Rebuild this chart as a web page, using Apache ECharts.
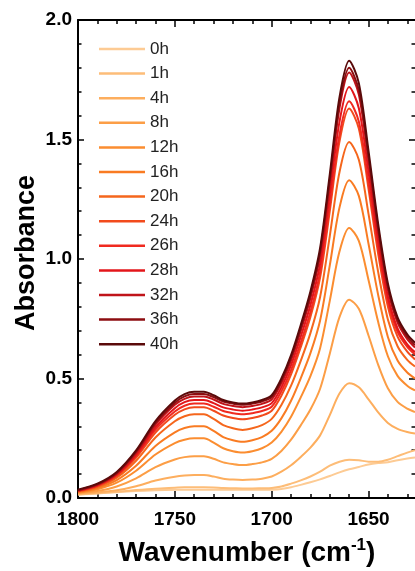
<!DOCTYPE html>
<html>
<head>
<meta charset="utf-8">
<script src="https://cdn.jsdelivr.net/npm/echarts@6/dist/echarts.min.js"></script>
<style>
html,body{margin:0;padding:0;background:#fff;}
#chart{width:415px;height:571px;}
</style>
</head>
<body>
<div id="chart"></div>
<script>
const wavenumbers = [1800,1790,1780,1770,1760,1750,1745,1740,1735,1730,1725,1720,1715,1710,1705,1700,1695,1690,1685,1680,1675,1670,1665,1660,1655,1650,1645,1640,1635,1630,1626];
const seriesNames = ['0h','1h','4h','8h','12h','16h','20h','24h','26h','28h','32h','36h','40h'];
const h0  = [.015,.019,.024,.029,.032,.034,.035,.035,.035,.035,.035,.034,.034,.034,.034,.035,.038,.045,.055,.066,.078,.092,.107,.120,.130,.140,.146,.150,.158,.165,.170];
const h1  = [.015,.020,.026,.033,.039,.043,.045,.045,.045,.044,.042,.041,.040,.040,.041,.042,.048,.060,.074,.090,.110,.135,.152,.160,.158,.152,.152,.160,.175,.190,.200];
const h4  = [.018,.023,.032,.049,.073,.089,.094,.096,.096,.090,.081,.077,.075,.077,.081,.090,.110,.137,.172,.211,.262,.347,.437,.480,.463,.413,.358,.314,.289,.276,.270];
const h8  = [.020,.029,.048,.082,.129,.161,.171,.175,.175,.164,.149,.142,.138,.142,.149,.164,.197,.244,.304,.370,.457,.604,.757,.830,.792,.680,.557,.459,.402,.374,.360];
const h12 = [.023,.037,.064,.114,.182,.230,.244,.250,.250,.232,.208,.196,.190,.196,.208,.232,.277,.340,.421,.510,.627,.825,1.031,1.130,1.076,.912,.736,.593,.511,.470,.450];
const h16 = [.025,.042,.075,.135,.218,.275,.293,.300,.300,.281,.255,.242,.235,.242,.255,.281,.333,.407,.501,.606,.743,.973,1.215,1.330,1.264,1.064,.849,.674,.575,.525,.500];
const h20 = [.027,.046,.085,.156,.253,.321,.342,.350,.350,.331,.305,.292,.285,.292,.305,.331,.389,.470,.574,.690,.841,1.096,1.363,1.490,1.415,1.189,.945,.747,.635,.578,.550];
const h24 = [.028,.049,.091,.169,.274,.348,.371,.380,.380,.365,.345,.335,.330,.335,.345,.365,.428,.517,.631,.757,.922,1.200,1.491,1.630,1.546,1.294,1.021,.801,.675,.612,.580];
const h26 = [.030,.052,.096,.176,.286,.362,.386,.395,.395,.382,.364,.355,.350,.355,.364,.382,.446,.535,.650,.778,.944,1.225,1.519,1.660,1.575,1.321,1.045,.823,.695,.632,.600];
const h28 = [.030,.053,.098,.182,.296,.376,.401,.410,.410,.397,.379,.370,.365,.370,.379,.397,.463,.556,.675,.807,.979,1.270,1.574,1.720,1.631,1.365,1.076,.843,.710,.643,.610];
const h32 = [.032,.056,.103,.189,.307,.390,.415,.425,.425,.412,.394,.385,.380,.385,.394,.412,.480,.576,.699,.836,1.014,1.315,1.630,1.780,1.688,1.412,1.113,.872,.734,.665,.630];
const h36 = [.033,.057,.105,.194,.314,.399,.425,.435,.435,.422,.404,.395,.390,.395,.404,.422,.491,.587,.711,.849,1.028,1.331,1.648,1.800,1.707,1.429,1.127,.884,.744,.675,.640];
const h40 = [.035,.060,.109,.199,.322,.408,.435,.445,.445,.430,.410,.400,.395,.400,.410,.430,.500,.598,.724,.864,1.046,1.354,1.676,1.830,1.736,1.452,1.146,.898,.756,.685,.650];
const seriesValues = [h0,h1,h4,h8,h12,h16,h20,h24,h26,h28,h32,h36,h40];
const colors = ['#FDCB94','#FDBD78','#FDAE5E','#FC9E46','#FB8D30','#F97B22','#F5661C','#F24A1C','#F02A20','#E3161A','#C0141A','#8C0D10','#5A0A0A'];
const xMajor = [1800, 1750, 1700, 1650];
const xMinor = [1790,1780,1770,1760,1740,1730,1720,1710,1690,1680,1670,1660,1640,1630];

const FONT = 'Liberation Sans, Arial, sans-serif';
const chart = echarts.init(document.getElementById('chart'), null, {renderer:'canvas'});

const blackLine = {show:true, lineStyle:{color:'#000', width:2}};
const tickStyle = {width:1.5, color:'#000'};
function xAxisDef(pos, values, len, withLine, withLabel) {
  return {type:'value', gridIndex:0, position:pos, min:1626, max:1800, inverse:true,
    axisLine: withLine ? blackLine : {show:false},
    axisTick:{show:true, inside:true, length:len, lineStyle:tickStyle, customValues:values},
    axisLabel: withLabel ? {show:true, margin:12, fontSize:19, fontWeight:'bold', color:'#000',
       fontFamily:FONT, customValues:values, formatter:(v)=>String(v)} : {show:false},
    splitLine:{show:false}};
}
const option = {
  animation:false,
  backgroundColor:'#fff',
  grid:{left:78, right:0, top:20, bottom:73, outerBoundsMode:'none'},
  legend:{
    data:seriesNames,
    orient:'vertical',
    left:99, top:40.5, padding:0,
    icon:'rect',
    itemWidth:46, itemHeight:2.5, itemGap:7.6,
    textStyle:{fontSize:17, color:'#222', fontFamily:FONT}
  },
  xAxis:[
    xAxisDef('bottom', xMajor, 7, true, true),
    xAxisDef('bottom', xMinor, 4, false, false),
    xAxisDef('top', xMajor, 7, true, false),
    xAxisDef('top', xMinor, 4, false, false)
  ],
  yAxis:[
    {type:'value', gridIndex:0, position:'left', min:0, max:2, interval:0.5,
     axisLine:blackLine,
     axisTick:{show:true, inside:true, length:6, lineStyle:tickStyle},
     minorTick:{show:true, splitNumber:5, length:3.5, lineStyle:tickStyle},
     axisLabel:{margin:6, fontSize:19, fontWeight:'bold', color:'#000', fontFamily:FONT,
       formatter:(v)=>v.toFixed(1)},
     splitLine:{show:false}},
    {type:'value', gridIndex:0, position:'right', min:0, max:2, interval:0.5,
     axisLine:{show:false},
     axisTick:{show:true, inside:true, length:6, lineStyle:tickStyle},
     minorTick:{show:true, splitNumber:5, length:3.5, lineStyle:tickStyle},
     axisLabel:{show:false}, splitLine:{show:false}}
  ],
  graphic:[
    {type:'text', x:247, y:553, z:10,
     style:{text:'{a|Wavenumber (cm}{s|-1}{a|)}', align:'center', verticalAlign:'middle',
       rich:{
         a:{fontSize:28, fontWeight:'bold', fontFamily:FONT, fill:'#000', color:'#000', lineHeight:32},
         s:{fontSize:17, fontWeight:'bold', fontFamily:FONT, fill:'#000', color:'#000', lineHeight:32, verticalAlign:'top', padding:[0,0,10,0]}
       }}},
    {type:'text', x:27, y:253, rotation:Math.PI/2, z:10,
     style:{text:'Absorbance', align:'center', verticalAlign:'middle',
       font:'bold 27px ' + FONT, fill:'#000'}}
  ],
  series: seriesNames.map((name, k) => ({
    name: name, type:'line', xAxisIndex:0, yAxisIndex:0,
    symbol:'none', smooth:0.3,
    color: colors[k],
    lineStyle:{width:2, color:colors[k]},
    data: wavenumbers.map((w, i) => [w, seriesValues[k][i]])
  }))
};
chart.setOption(option);
</script>
</body>
</html>
